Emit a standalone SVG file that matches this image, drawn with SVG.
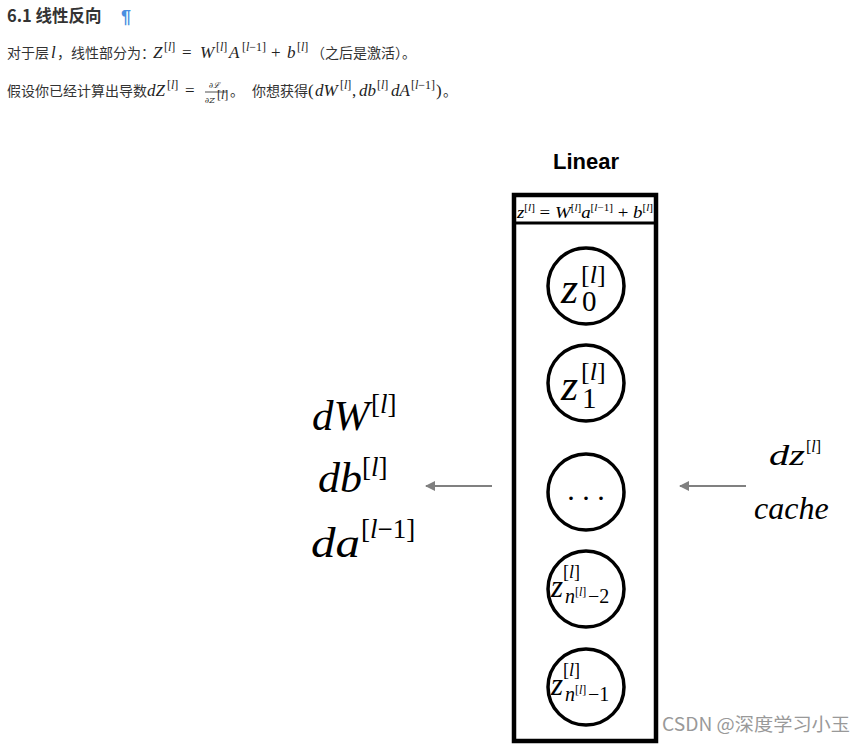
<svg xmlns="http://www.w3.org/2000/svg" width="867" height="745" viewBox="0 0 867 745">
<style>
.cn{font-family:"Noto Sans CJK SC","Noto Sans",sans-serif;fill:#333;font-size:14px}
.m{font-family:"Liberation Serif","DejaVu Serif",serif;font-style:italic;fill:#222;font-size:17px}
.r{font-family:"Liberation Serif","DejaVu Serif",serif;font-style:normal;fill:#222;font-size:17px}
.s{font-family:"Liberation Serif","DejaVu Serif",serif;fill:#222;font-size:12px}
.node{fill:#fff;stroke:#000;stroke-width:3.5}
.big{font-family:"Liberation Serif","DejaVu Serif",serif;fill:#000}
.conn{stroke:#808080;stroke-width:2;fill:none;marker-end:url(#ah)}
</style>
<defs>
<marker id="ah" viewBox="0 0 10 10" refX="9" refY="5" markerWidth="5" markerHeight="5" orient="auto" markerUnits="strokeWidth">
<path d="M0,0 L10,5 L0,10 z" fill="#808080"/>
</marker>
</defs>
<rect width="867" height="745" fill="#fff"/>
<g id="header">
<text x="7" y="22" font-family="'Noto Sans CJK SC','Liberation Sans',sans-serif" font-weight="bold" font-size="16.5" fill="#333">6.1 线性反向</text>
<text x="121" y="23" font-family="'Liberation Sans',sans-serif" font-weight="bold" font-size="18" fill="#4a8fe0">¶</text>
<text class="cn" x="7" y="58">对于层</text>
<text class="m" x="51" y="58">l</text>
<text class="cn" x="57" y="58">，线性部分为：</text>
<text class="m" x="153" y="58">Z</text><text class="s" x="164" y="51">[<tspan font-style="italic">l</tspan>]</text>
<text class="r" x="182" y="58">=</text>
<text class="m" x="200" y="58">W</text><text class="s" x="216" y="51">[<tspan font-style="italic">l</tspan>]</text>
<text class="m" x="229" y="58">A</text><text class="s" x="242" y="51">[<tspan font-style="italic">l</tspan>−1]</text>
<text class="r" x="271" y="58">+</text>
<text class="m" x="287" y="58">b</text><text class="s" x="297" y="51">[<tspan font-style="italic">l</tspan>]</text>
<text class="cn" x="311" y="58">（之后是激活）。</text>
<text class="cn" x="7" y="96">假设你已经计算出导数</text>
<text class="m" x="147" y="96">dZ</text><text class="s" x="167" y="89">[<tspan font-style="italic">l</tspan>]</text>
<text class="r" x="185" y="96">=</text>
<text x="209" y="88" font-family="'DejaVu Serif',serif" font-style="italic" font-size="8" fill="#222">∂ℒ</text>
<line x1="205" y1="92" x2="227" y2="92" stroke="#222" stroke-width="0.8"/>
<text x="205" y="103" font-family="'DejaVu Serif',serif" font-style="italic" font-size="8" fill="#222">∂Z</text><text class="s" x="217" y="99" font-size="6">[<tspan font-style="italic">l</tspan>]</text>
<text class="cn" x="230" y="96">。</text>
<text class="cn" x="252" y="96">你想获得</text>
<text class="r" x="308" y="96">(</text>
<text class="m" x="315" y="96">dW</text><text class="s" x="340" y="89">[<tspan font-style="italic">l</tspan>]</text>
<text class="r" x="352" y="96">,</text>
<text class="m" x="359" y="96">db</text><text class="s" x="377" y="89">[<tspan font-style="italic">l</tspan>]</text>
<text class="m" x="391" y="96">dA</text><text class="s" x="411" y="89">[<tspan font-style="italic">l</tspan>−1]</text>
<text class="r" x="436" y="96">)</text>
<text class="cn" x="443" y="96">。</text>
</g>
<g id="linear-box">
<text x="586" y="169" text-anchor="middle" font-family="'Liberation Sans',Arial,sans-serif" font-weight="bold" font-size="22" fill="#000">Linear</text>
<rect x="514" y="195" width="142" height="546" fill="#fff" stroke="#000" stroke-width="4.5"/>
<line x1="514" y1="223" x2="656" y2="223" stroke="#000" stroke-width="3"/>
<text class="big" x="517" y="218" font-size="17" font-style="italic" textLength="136" lengthAdjust="spacingAndGlyphs">z<tspan font-size="10" dy="-7" font-style="normal">[</tspan><tspan font-size="10">l</tspan><tspan font-size="10" font-style="normal">]</tspan><tspan dy="7" font-style="normal"> = </tspan>W<tspan font-size="10" dy="-7" font-style="normal">[</tspan><tspan font-size="10">l</tspan><tspan font-size="10" font-style="normal">]</tspan><tspan dy="7">a</tspan><tspan font-size="10" dy="-7" font-style="normal">[</tspan><tspan font-size="10">l</tspan><tspan font-size="10" font-style="normal">−1]</tspan><tspan dy="7" font-style="normal"> + </tspan>b<tspan font-size="10" dy="-7" font-style="normal">[</tspan><tspan font-size="10">l</tspan><tspan font-size="10" font-style="normal">]</tspan></text>
</g>
<g id="node-z0">
<circle class="node" cx="586" cy="286" r="38"/>
<text class="big" x="561" y="303" font-size="44" font-style="italic">z</text>
<text class="big" x="582" y="311" font-size="29">0</text>
<text class="big" x="581" y="283" font-size="26">[<tspan font-style="italic">l</tspan>]</text>
</g>
<g id="node-z1">
<circle class="node" cx="586" cy="383" r="38"/>
<text class="big" x="561" y="400" font-size="44" font-style="italic">z</text>
<text class="big" x="582" y="408" font-size="29">1</text>
<text class="big" x="581" y="380" font-size="26">[<tspan font-style="italic">l</tspan>]</text>
</g>
<g id="node-dots">
<circle class="node" cx="586" cy="492" r="38"/>
<text class="big" x="586" y="500" font-size="30" text-anchor="middle">. . .</text>
</g>
<g id="node-zn2">
<circle class="node" cx="586" cy="589" r="38"/>
<text class="big" x="551" y="597" font-size="31" font-style="italic">z</text>
<text class="big" x="563" y="578" font-size="18">[<tspan font-style="italic">l</tspan>]</text>
<text class="big" x="565" y="603" font-size="20" font-style="italic">n</text>
<text class="big" x="575" y="596" font-size="12">[<tspan font-style="italic">l</tspan>]</text>
<text class="big" x="588" y="603" font-size="20">−2</text>
</g>
<g id="node-zn1">
<circle class="node" cx="586" cy="687" r="38"/>
<text class="big" x="551" y="695" font-size="31" font-style="italic">z</text>
<text class="big" x="563" y="676" font-size="18">[<tspan font-style="italic">l</tspan>]</text>
<text class="big" x="565" y="701" font-size="20" font-style="italic">n</text>
<text class="big" x="575" y="694" font-size="12">[<tspan font-style="italic">l</tspan>]</text>
<text class="big" x="588" y="701" font-size="20">−1</text>
</g>
<g id="outputs">
<text class="big" x="312" y="430" font-size="43" font-style="italic">dW</text>
<text class="big" x="371" y="413" font-size="27">[<tspan font-style="italic">l</tspan>]</text>
<text class="big" x="318" y="492" font-size="43" font-style="italic" textLength="44" lengthAdjust="spacingAndGlyphs">db</text>
<text class="big" x="362" y="476" font-size="27">[<tspan font-style="italic">l</tspan>]</text>
<text class="big" x="311" y="557" font-size="43" font-style="italic" textLength="49" lengthAdjust="spacingAndGlyphs">da</text>
<text class="big" x="361" y="538" font-size="27">[<tspan font-style="italic">l</tspan>−1]</text>
</g>
<g id="inputs">
<text class="big" x="769" y="465" font-size="30" font-style="italic" textLength="36" lengthAdjust="spacingAndGlyphs">dz</text>
<text class="big" x="806" y="452" font-size="16">[<tspan font-style="italic">l</tspan>]</text>
<text class="big" x="754" y="519" font-size="32" font-style="italic">cache</text>
</g>
<g id="connectors">
<line class="conn" x1="492" y1="486" x2="426" y2="486"/>
<line class="conn" x1="746" y1="486" x2="680" y2="486"/>
</g>
<g id="watermark">
<text x="662" y="731" font-family="'Noto Sans CJK SC','Liberation Sans',sans-serif" font-size="18" fill="#999" textLength="188" lengthAdjust="spacingAndGlyphs">CSDN @深度学习小玉</text>
</g>
</svg>
